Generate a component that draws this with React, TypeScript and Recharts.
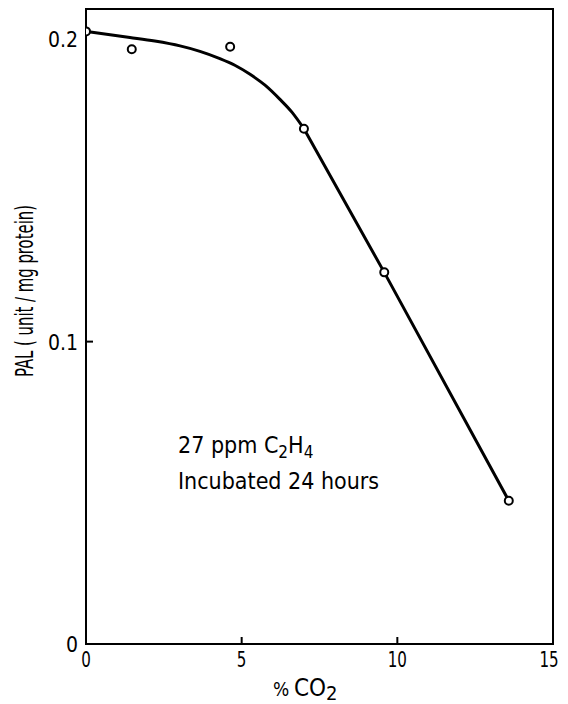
import React from "react";
import { ComposedChart, Line, Scatter, XAxis, YAxis, ReferenceArea } from "recharts";

// measured points (open circles)
const co2Measured = [0, 1.47, 4.63, 7.0, 9.58, 13.58];
const palMeasured = [0.2026, 0.1967, 0.1975, 0.1704, 0.1229, 0.0474];

// hand-drawn fitted curve: bending part, then the straight fall
const bendCo2 = [0.0, 1.41, 2.21, 3.02, 3.66, 4.3, 4.78, 5.27, 5.75, 6.23, 6.62, 7.0];
const bendPal = [0.2026, 0.2006, 0.1994, 0.1978, 0.196, 0.1936, 0.1914, 0.1884, 0.1848, 0.1801, 0.1758, 0.1704];
const straightCo2 = [7.0, 9.58, 13.58];
const straightPal = [0.1704, 0.1229, 0.0474];

const xTicks = [0, 5, 10, 15];
const yTicks = [0, 0.1, 0.2];
const yTickLabels = ["0", "0.1", "0.2"];

const FONT = '"Liberation Sans Narrow", "DejaVu Sans Condensed", "Liberation Sans", sans-serif';

const points = co2Measured.map((x, i) => ({ x, y: palMeasured[i] }));
const bend = bendCo2.map((x, i) => ({ x, y: bendPal[i] }));
const straight = straightCo2.map((x, i) => ({ x, y: straightPal[i] }));

const XTick = (props: any) => {
  const { x, y, payload } = props;
  const v = payload.value;
  const inner = v > 0 && v < 15;
  // the last label sits right at the page edge, nudge it in
  const tx = v === 15 ? x - 4 : x;
  return (
    <g>
      {inner && <line x1={x} y1={y} x2={x} y2={y - 7} stroke="#000" strokeWidth={2} />}
      <text
        transform={`translate(${tx} ${y + 15}) scale(0.8 1)`}
        textAnchor="middle"
        dominantBaseline="central"
        fontFamily={FONT}
        fontSize={21}
        fill="#000"
      >
        {v}
      </text>
    </g>
  );
};

const YTick = (props: any) => {
  const { x, y, payload } = props;
  const i = yTicks.indexOf(payload.value);
  return (
    <g>
      {payload.value === 0.1 && <line x1={x} y1={y} x2={x + 7} y2={y} stroke="#000" strokeWidth={2} />}
      <text x={x - 8} y={y + 1} textAnchor="end" dominantBaseline="central" fontFamily={FONT} fontSize={21} fill="#000">
        {yTickLabels[i]}
      </text>
    </g>
  );
};

const OpenCircle = (props: any) => {
  const { cx, cy } = props;
  return <circle cx={cx} cy={cy} r={4} fill="#fff" stroke="#000" strokeWidth={2} />;
};

export default function App() {
  return (
    <div style={{ position: "relative", width: 552, height: 696, background: "#fff" }}>
      <ComposedChart width={552} height={696} margin={{ top: 1, right: 7, left: 0, bottom: 0 }}>
        <XAxis
          type="number"
          dataKey="x"
          domain={[0, 15]}
          ticks={xTicks}
          interval={0}
          height={60}
          axisLine={false}
          tickLine={false}
          tickSize={0}
          tickMargin={0}
          tick={<XTick />}
          allowDataOverflow
        />
        <YAxis
          type="number"
          dataKey="y"
          domain={[0, 0.21]}
          ticks={yTicks}
          interval={0}
          width={78}
          axisLine={false}
          tickLine={false}
          tickSize={0}
          tickMargin={0}
          tick={<YTick />}
          allowDataOverflow
        />
        <ReferenceArea x1={0} x2={15} y1={0} y2={0.21} fill="none" fillOpacity={0} stroke="#000" strokeWidth={2} />
        <Line data={bend} dataKey="y" type="monotone" stroke="#000" strokeWidth={3} dot={false} isAnimationActive={false} />
        <Line data={straight} dataKey="y" type="linear" stroke="#000" strokeWidth={3} dot={false} isAnimationActive={false} />
        <Scatter data={points} dataKey="y" shape={<OpenCircle />} isAnimationActive={false} />
      </ComposedChart>
      <svg width={552} height={696} style={{ position: "absolute", left: 0, top: 0, pointerEvents: "none" }}>
        <text
          x={0}
          y={0}
          transform="translate(17 283) rotate(-90)"
          textAnchor="middle"
          dominantBaseline="central"
          fontFamily={FONT}
          fontSize={24}
          textLength={172}
          lengthAdjust="spacingAndGlyphs"
          fill="#000"
        >
          PAL ( unit / mg protein)
        </text>
        <text x={170} y={445} fontFamily={FONT} fontSize={23} fill="#000">
          27 ppm  C
          <tspan dy={5} fontSize={17}>2</tspan>
          <tspan dy={-5}>H</tspan>
          <tspan dy={5} fontSize={17}>4</tspan>
        </text>
        <text x={170} y={481} fontFamily={FONT} fontSize={23} fill="#000">
          Incubated 24 hours
        </text>
        <text y={688} fontFamily={FONT} fontSize={24} fill="#000">
          <tspan x={265} fontSize={19}>%</tspan>
          <tspan x={286}>CO</tspan>
          <tspan dy={4} fontSize={20}>2</tspan>
        </text>
      </svg>
    </div>
  );
}
